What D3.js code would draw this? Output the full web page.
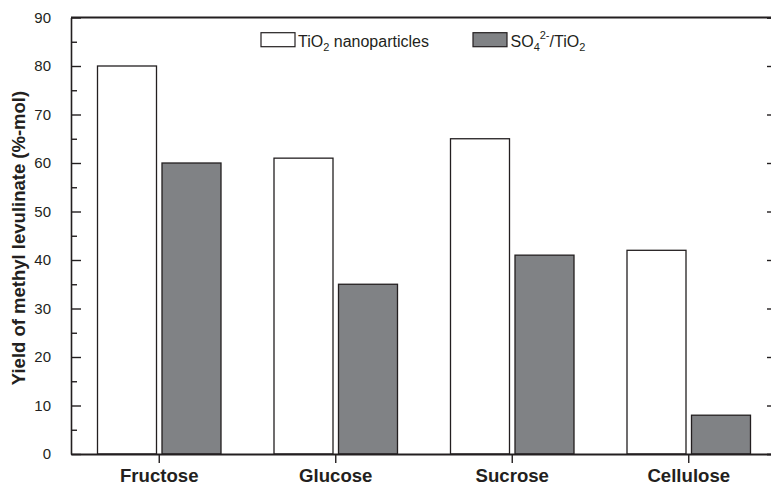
<!DOCTYPE html>
<html>
<head>
<meta charset="utf-8">
<script src="https://cdn.jsdelivr.net/npm/d3@7"></script>
<style>
  html, body { margin: 0; padding: 0; background: #fff; }
  svg { display: block; font-family: "Liberation Sans", Arial, sans-serif; }
</style>
</head>
<body>
<svg id="chart" width="771" height="486"></svg>
<script>
// Methyl levulinate yield per feedstock and catalyst
const categories = ["Fructose", "Glucose", "Sucrose", "Cellulose"];
const tio2Values = [80, 61, 65, 42];
const so4Values = [60, 35, 41, 8];
const yTicks = [0, 10, 20, 30, 40, 50, 60, 70, 80, 90];
const yMinorTicks = [5, 15, 25, 35, 45, 55, 65, 75, 85];

const svg = d3.select("#chart");
const plotLeft = 71, plotRight = 777, plotTop = 17.5, plotBottom = 454;

const x = d3.scaleBand().domain(categories).range([plotLeft, plotRight]).padding(0);
const y = d3.scaleLinear().domain([0, 90]).range([plotBottom, plotTop]);

const barW = 59, gap = 5.5;
const ink = "#231f20";

// Bars
const groups = svg.append("g").selectAll("g")
  .data(categories.map((c, i) => ({ c, a: tio2Values[i], b: so4Values[i] })))
  .join("g");

groups.append("rect")
  .attr("x", d => x(d.c) + x.bandwidth() / 2 - gap / 2 - barW)
  .attr("y", d => y(d.a))
  .attr("width", barW)
  .attr("height", d => y(0) - y(d.a))
  .attr("fill", "#fff").attr("stroke", ink).attr("stroke-width", 1.3);

groups.append("rect")
  .attr("x", d => x(d.c) + x.bandwidth() / 2 + gap / 2)
  .attr("y", d => y(d.b))
  .attr("width", barW)
  .attr("height", d => y(0) - y(d.b))
  .attr("fill", "#808285").attr("stroke", ink).attr("stroke-width", 1.3);

// Left axis with inward ticks
const yAxis = svg.append("g").attr("transform", `translate(${plotLeft},0)`)
  .call(d3.axisLeft(y).tickValues(yTicks).tickSize(-10).tickPadding(20).tickSizeOuter(0));
yAxis.select(".domain").attr("stroke", ink).attr("stroke-width", 1.6);
yAxis.selectAll(".tick line").attr("stroke", ink).attr("stroke-width", 1.4);
yAxis.selectAll(".tick text").attr("font-size", 15).attr("fill", ink);

svg.append("g").attr("transform", `translate(${plotLeft},0)`)
  .call(d3.axisLeft(y).tickValues(yMinorTicks).tickSize(-6).tickFormat(""))
  .call(g => g.select(".domain").remove())
  .selectAll(".tick line").attr("stroke", ink).attr("stroke-width", 1.4);

// Right axis ticks
svg.append("g").attr("transform", `translate(${plotRight},0)`)
  .call(d3.axisRight(y).tickValues(yTicks).tickSize(-10).tickFormat(""))
  .call(g => g.select(".domain").attr("stroke", ink).attr("stroke-width", 1.6))
  .selectAll(".tick line").attr("stroke", ink).attr("stroke-width", 1.4);

// Top frame line
svg.append("line")
  .attr("x1", plotLeft).attr("x2", plotRight).attr("y1", y(90)).attr("y2", y(90))
  .attr("stroke", ink).attr("stroke-width", 1.8);

// Bottom axis
const xAxis = svg.append("g").attr("transform", `translate(0,${plotBottom})`)
  .call(d3.axisBottom(x).tickSize(9).tickPadding(0).tickSizeOuter(0));
xAxis.select(".domain").attr("stroke", ink).attr("stroke-width", 2.2);
xAxis.selectAll(".tick line").attr("stroke", ink).attr("stroke-width", 1.4);
xAxis.selectAll(".tick text")
  .attr("dy", null).attr("y", 28)
  .attr("font-size", 18.6).attr("font-weight", "bold").attr("fill", ink);

// Y-axis title
svg.append("text")
  .attr("transform", `translate(25,238) rotate(-90)`)
  .attr("text-anchor", "middle")
  .attr("font-size", 18.5).attr("font-weight", "bold").attr("fill", ink)
  .text("Yield of methyl levulinate (%-mol)");

// Legend
const legend = svg.append("g").attr("font-size", 16).attr("fill", ink);
legend.append("rect").attr("x", 261).attr("y", 32.7).attr("width", 34).attr("height", 14)
  .attr("fill", "#fff").attr("stroke", ink).attr("stroke-width", 1.2);
const t1 = legend.append("text").attr("x", 298).attr("y", 46.5);
t1.append("tspan").text("TiO");
t1.append("tspan").attr("font-size", 11).attr("dy", 4).text("2");
t1.append("tspan").attr("dy", -4).text(" nanoparticles");

legend.append("rect").attr("x", 473).attr("y", 32.7).attr("width", 34).attr("height", 14)
  .attr("fill", "#808285").attr("stroke", ink).attr("stroke-width", 1.2);
const t2 = legend.append("text").attr("x", 510.5).attr("y", 46.5);
t2.append("tspan").text("SO");
t2.append("tspan").attr("font-size", 11).attr("dy", 4).text("4");
t2.append("tspan").attr("font-size", 11).attr("dy", -12).text("2-");
t2.append("tspan").attr("dy", 8).text("/TiO");
t2.append("tspan").attr("font-size", 11).attr("dy", 4).text("2");
</script>
</body>
</html>
